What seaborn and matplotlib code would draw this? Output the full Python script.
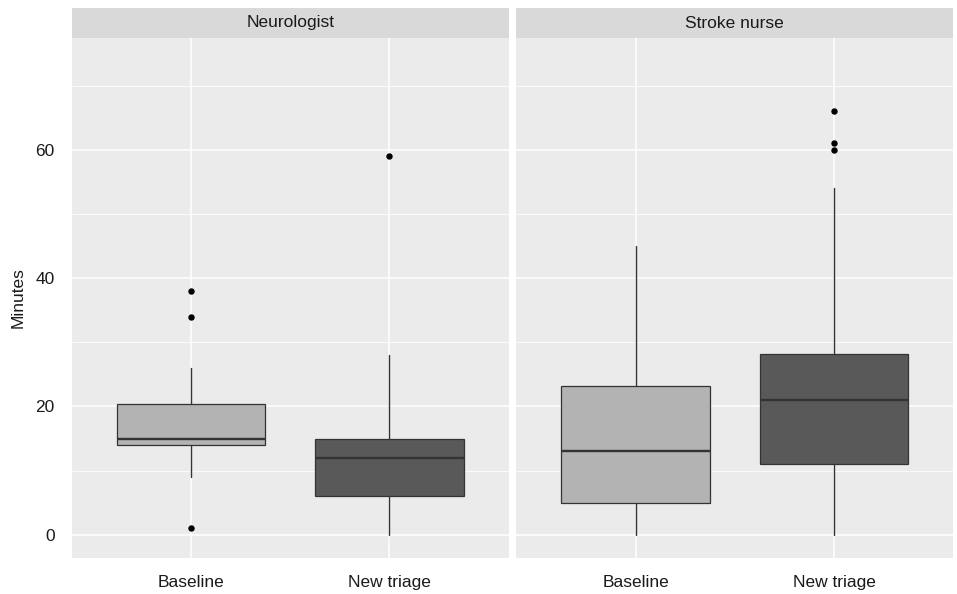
import numpy as np
import pandas as pd
import matplotlib.pyplot as plt
import seaborn as sns
from matplotlib.patches import Rectangle
from matplotlib.ticker import MultipleLocator

# values (minutes)
panels = ["Neurologist", "Stroke nurse"]
groups = ["Baseline", "New triage"]
whislo = [[9, 0], [0, 0]]
q1 = [[14, 6], [5, 11]]
med = [[15, 12], [13, 21]]
q3 = [[20.4, 15], [23.2, 28.25]]
whishi = [[26, 28], [45, 54]]
fliers = [[[1, 34, 38], [59]], [[], [60, 61, 66]]]
fills = ["#b3b3b3", "#595959"]

rows = []
for i, p in enumerate(panels):
    for j, grp in enumerate(groups):
        rows.append(dict(panel=p, group=grp, whislo=whislo[i][j], q1=q1[i][j],
                         med=med[i][j], q3=q3[i][j], whishi=whishi[i][j],
                         fliers=fliers[i][j]))
df = pd.DataFrame(rows)

sns.set_theme(style="darkgrid", rc={"axes.facecolor": "#ebebeb",
                                    "grid.color": "white"})
plt.rcParams['font.family'] = ['Liberation Sans', 'DejaVu Sans']


def draw_boxes(data, **kws):
    ax = plt.gca()
    stats = []
    for _, r in data.iterrows():
        stats.append(dict(label=r["group"], whislo=r["whislo"], q1=r["q1"],
                          med=r["med"], q3=r["q3"], whishi=r["whishi"],
                          fliers=np.array(r["fliers"])))
    bp = ax.bxp(stats, positions=[1, 2], widths=0.75, patch_artist=True,
                showcaps=False,
                boxprops=dict(edgecolor="#333333", linewidth=0.9),
                medianprops=dict(color="#333333", linewidth=1.7),
                whiskerprops=dict(color="#333333", linewidth=1.0),
                flierprops=dict(marker="o", markersize=3.6,
                                markerfacecolor="black",
                                markeredgecolor="black"))
    for patch, c in zip(bp["boxes"], fills):
        patch.set_facecolor(c)


g = sns.FacetGrid(df, col="panel", col_order=panels, sharey=True)
g.map_dataframe(draw_boxes)
g.figure.set_size_inches(9.57, 5.94)
g.figure.subplots_adjust(left=72/957, right=953/957, bottom=1-558/594,
                         top=1-38/594, wspace=0.0183)

strip_h = 30 / 520
for ax, name in zip(g.axes.flat, panels):
    ax.set_xlim(0.4, 2.6)
    ax.set_ylim(-3.6, 77.4)
    ax.set_xticks([1, 2])
    ax.set_xticklabels(groups)
    ax.yaxis.set_major_locator(MultipleLocator(20))
    ax.yaxis.set_minor_locator(MultipleLocator(10))
    ax.grid(which="major", color="white", linewidth=1.1)
    ax.grid(which="minor", axis="y", color="white", linewidth=0.55)
    ax.tick_params(which="major", length=3, width=0.8, color="#333333",
                   pad=9.5, labelsize=12.5, labelcolor="#1a1a1a")
    ax.tick_params(which="minor", length=0)
    for s in ax.spines.values():
        s.set_visible(False)
    ax.set_title("")
    ax.set_xlabel("")
    ax.add_patch(Rectangle((0, 1), 1, strip_h, transform=ax.transAxes,
                           facecolor="#d9d9d9", edgecolor="none",
                           clip_on=False))
    ax.text(0.5, 1 + strip_h / 2, name, transform=ax.transAxes,
            ha="center", va="center", fontsize=12.5, color="#1a1a1a")

left = g.axes.flat[0]
left.set_ylabel("Minutes", fontsize=12.5, color="#1a1a1a")
left.yaxis.set_label_coords(-(72 - 26) / 436.5, 0.5)
g.axes.flat[1].set_ylabel("")
g.axes.flat[1].tick_params(axis="y", length=0)

g.figure.savefig("out.png", dpi=100)
